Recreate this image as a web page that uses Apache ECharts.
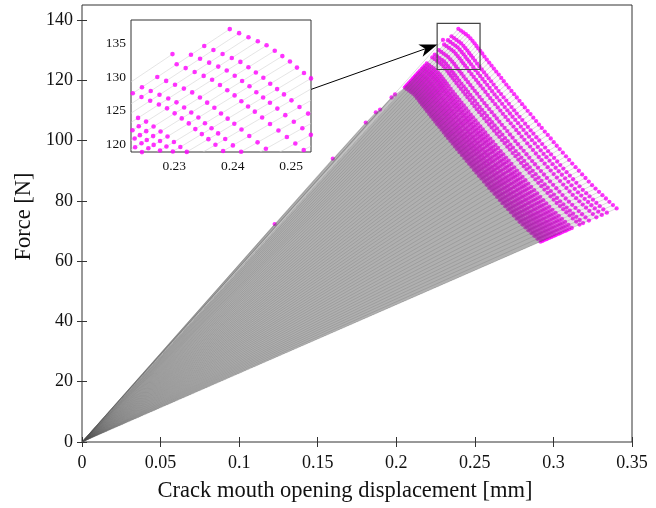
<!DOCTYPE html>
<html>
<head>
<meta charset="utf-8">
<script src="https://cdn.jsdelivr.net/npm/echarts@6/dist/echarts.min.js"></script>
<style>
  html, body { margin: 0; padding: 0; background: #ffffff; }
  #chart { width: 656px; height: 508px; }
</style>
</head>
<body>
<div id="chart"></div>
<script>
// Softening branch of the largest run: CMOD [mm] and force [N] at each load step
const stepCmod = [
  0.2395, 0.2411, 0.2427, 0.2443, 0.2458, 0.2472, 0.2485, 0.2498, 0.2510, 0.2522,
  0.2534, 0.2547, 0.2561, 0.2576, 0.2591, 0.2606, 0.2621, 0.2636, 0.2652, 0.2668,
  0.2684, 0.2700, 0.2716, 0.2733, 0.2750, 0.2767, 0.2784, 0.2801, 0.2818, 0.2836,
  0.2854, 0.2872, 0.2890, 0.2908, 0.2926, 0.2945, 0.2964, 0.2983, 0.3002, 0.3021,
  0.3040, 0.3060, 0.3080, 0.3100, 0.3120, 0.3141, 0.3162, 0.3183, 0.3204, 0.3225,
  0.3246, 0.3268, 0.3290, 0.3312, 0.3334, 0.3356, 0.3379, 0.3402
];
const stepForce = [
  137.1, 136.5, 135.9, 135.3, 134.7, 133.9, 133.1, 132.3, 131.4, 130.6,
  129.8, 128.9, 127.9, 126.9, 125.9, 124.9, 123.9, 122.9, 121.9, 120.8,
  119.7, 118.6, 117.6, 116.5, 115.4, 114.3, 113.2, 112.1, 111.0, 109.9,
  108.8, 107.6, 106.5, 105.3, 104.2, 103.0, 101.9, 100.7, 99.5, 98.3,
  97.2, 96.0, 94.8, 93.6, 92.4, 91.2, 90.0, 88.8, 87.6, 86.4,
  85.2, 84.1, 83.0, 81.9, 80.8, 79.7, 78.6, 77.5
];
// Peak force of every run [N]; each run is a similar copy of the branch above
const runPeakForce = [
  137.1, 134.6, 133.3, 131.9, 130.0, 128.5, 127.6, 125.6, 124.9, 124.3,
  123.8, 123.2, 122.6, 122.2, 121.6, 121.2, 120.7, 120.3, 119.8, 119.3,
  118.9, 118.4, 118.0, 117.6
];
// Load steps recorded on the elastic branch before the peak
const elasticCmod  = [0.1226, 0.1596, 0.1806, 0.1870, 0.1897, 0.1970, 0.1992, 0.2297];
const elasticForce = [72.3, 94.0, 106.0, 109.4, 110.3, 114.3, 115.3, 133.4];

// Tick values
const xTicks = [0, 0.05, 0.1, 0.15, 0.2, 0.25, 0.3, 0.35];
const yTicks = [0, 20, 40, 60, 80, 100, 120, 140];
const insetXTicks = [0.23, 0.24, 0.25];
const insetYTicks = [120, 125, 130, 135];

// Zoomed window (mm, N) and the arrow pointing at it from the inset
const zoomBox = [0.2260, 123.6, 0.2533, 138.9];
const arrowLine = [0.1458, 117.0, 0.2262, 131.9];

const FONT = '"Liberation Serif", "Times New Roman", serif';
const AXIS_COLOR = '#333333';
const MAGENTA = '#ff00ff';

const basePeak = Math.max.apply(null, stepForce);
const runs = runPeakForce.map(function (pk) {
  const s = pk / basePeak;
  return stepCmod.map(function (x, i) { return [x * s, stepForce[i] * s]; });
});
const elasticPts = elasticCmod.map(function (x, i) { return [x, elasticForce[i]]; });
const allPts = [].concat.apply([], runs).concat(elasticPts);
// Every run unloads along the same secant lines; the outermost step of each line
const outerRays = runs[0].concat(elasticPts);
// Region swept by the elastic branch: origin, pre-peak steps, peak of the smallest run
const elasticWedge = [[0, 0]].concat(elasticPts.filter(function (p) { return p[1] < 120; }))
  .concat([runs[runs.length - 1][0]]);

function rayRenderer(color, width) {
  return function (params, api) {
    const o = api.coord([0, 0]);
    const p = api.coord([api.value(0), api.value(1)]);
    return {
      type: 'line',
      shape: { x1: o[0], y1: o[1], x2: p[0], y2: p[1] },
      style: { stroke: color, lineWidth: width },
      silent: true
    };
  };
}

function fmt(v) { return String(+v.toFixed(4)); }

const chart = echarts.init(document.getElementById('chart'), null, { renderer: 'canvas' });

const tickStyle = { color: AXIS_COLOR, width: 1 };
const mainX = {
  gridIndex: 0, type: 'value', min: 0, max: 0.35,
  axisLine: { show: false },
  axisTick: { show: true, inside: true, length: 5, customValues: xTicks, lineStyle: tickStyle },
  axisLabel: { show: true, customValues: xTicks, formatter: fmt, color: '#111', fontFamily: FONT, fontSize: 18, margin: 12 },
  splitLine: { show: false },
  name: 'Crack mouth opening displacement [mm]', nameLocation: 'middle', nameGap: 38,
  nameTextStyle: { color: '#111', fontFamily: FONT, fontSize: 22.5, padding: [0, 24, 0, 0] }
};
const mainY = {
  gridIndex: 0, type: 'value', min: 0, max: 145,
  axisLine: { show: false },
  axisTick: { show: true, inside: true, length: 5, customValues: yTicks, lineStyle: tickStyle },
  axisLabel: { show: true, customValues: yTicks, formatter: fmt, color: '#111', fontFamily: FONT, fontSize: 18, margin: 9 },
  splitLine: { show: false },
  name: 'Force [N]', nameLocation: 'middle', nameGap: 42, nameRotate: 90,
  nameTextStyle: { color: '#111', fontFamily: FONT, fontSize: 22.5, padding: [0, 0, 0, 14] }
};
const mirrorX = {
  gridIndex: 0, type: 'value', min: 0, max: 0.35, position: 'top',
  axisLine: { show: false },
  axisTick: { show: true, inside: true, length: 5, customValues: xTicks, lineStyle: tickStyle },
  axisLabel: { show: false }, splitLine: { show: false }
};
const mirrorY = {
  gridIndex: 0, type: 'value', min: 0, max: 145, position: 'right',
  axisLine: { show: false },
  axisTick: { show: true, inside: true, length: 5, customValues: yTicks, lineStyle: tickStyle },
  axisLabel: { show: false }, splitLine: { show: false }
};
const insetX = {
  gridIndex: 1, type: 'value', min: 0.2226, max: 0.2534,
  axisLine: { show: false },
  axisTick: { show: true, inside: true, length: 3, customValues: insetXTicks, lineStyle: tickStyle },
  axisLabel: { show: true, customValues: insetXTicks, formatter: fmt, color: '#111', fontFamily: FONT, fontSize: 13.5, margin: 7 },
  splitLine: { show: false }
};
const insetY = {
  gridIndex: 1, type: 'value', min: 118.9, max: 138.45,
  axisLine: { show: false },
  axisTick: { show: true, inside: true, length: 3, customValues: insetYTicks, lineStyle: tickStyle },
  axisLabel: { show: true, customValues: insetYTicks, formatter: fmt, color: '#111', fontFamily: FONT, fontSize: 13.5, margin: 5 },
  splitLine: { show: false }
};

chart.setOption({
  animation: false,
  backgroundColor: '#ffffff',
  grid: [
    { left: 82, top: 5, width: 550, height: 437, show: true, borderColor: AXIS_COLOR, borderWidth: 1, backgroundColor: 'transparent', containLabel: false, z: 1 },
    { left: 131, top: 20, width: 180, height: 132, show: true, borderColor: AXIS_COLOR, borderWidth: 1, backgroundColor: '#ffffff', containLabel: false, z: 20 }
  ],
  xAxis: [mainX, mirrorX, insetX],
  yAxis: [mainY, mirrorY, insetY],
  series: [
    {
      name: 'steps', type: 'scatter', xAxisIndex: 0, yAxisIndex: 0,
      data: allPts, symbol: 'circle', symbolSize: 4.3,
      itemStyle: { color: MAGENTA }, z: 2, silent: true, large: false, progressive: 0
    },
    {
      // area swept by the unloading lines of each run
      name: 'swept', type: 'custom', xAxisIndex: 0, yAxisIndex: 0, clip: true,
      data: runs.map(function (r, i) { return [i]; }), z: 3, silent: true,
      renderItem: function (params, api) {
        const pts = [api.coord([0, 0])].concat(runs[params.dataIndex].map(function (p) { return api.coord(p); }));
        return { type: 'polygon', shape: { points: pts }, style: { fill: 'rgba(110,110,110,0.027)', stroke: 'none' } };
      }
    },
    {
      name: 'elastic', type: 'custom', xAxisIndex: 0, yAxisIndex: 0, clip: true,
      data: [[0]], z: 3, silent: true,
      renderItem: function (params, api) {
        const pts = elasticWedge.map(function (p) { return api.coord(p); });
        return { type: 'polygon', shape: { points: pts }, style: { fill: 'rgba(110,110,110,0.42)', stroke: 'none' } };
      }
    },
    {
      name: 'unloading', type: 'custom', xAxisIndex: 0, yAxisIndex: 0, clip: true,
      data: outerRays, renderItem: rayRenderer('rgba(80,80,80,0.33)', 0.6), z: 4, silent: true, progressive: 0
    },
    {
      name: 'window', type: 'custom', xAxisIndex: 0, yAxisIndex: 0, clip: false,
      data: [zoomBox], z: 10, silent: true,
      renderItem: function (params, api) {
        const a = api.coord([api.value(0), api.value(1)]);
        const b = api.coord([api.value(2), api.value(3)]);
        return {
          type: 'rect',
          shape: { x: Math.min(a[0], b[0]), y: Math.min(a[1], b[1]), width: Math.abs(b[0] - a[0]), height: Math.abs(b[1] - a[1]) },
          style: { fill: 'none', stroke: '#444', lineWidth: 1.2 }
        };
      }
    },
    {
      name: 'pointer', type: 'custom', xAxisIndex: 0, yAxisIndex: 0, clip: false,
      data: [arrowLine], z: 30, silent: true,
      renderItem: function (params, api) {
        const p0 = api.coord([api.value(0), api.value(1)]);
        const p1 = api.coord([api.value(2), api.value(3)]);
        const dx = p1[0] - p0[0], dy = p1[1] - p0[1];
        const len = Math.sqrt(dx * dx + dy * dy);
        const ux = dx / len, uy = dy / len, nx = -uy, ny = ux;
        const L = 18, W = 6.5, notch = 5;
        const back = [p1[0] - L * ux, p1[1] - L * uy];
        const inner = [p1[0] - (L - notch) * ux, p1[1] - (L - notch) * uy];
        return {
          type: 'group',
          children: [
            { type: 'line', shape: { x1: p0[0], y1: p0[1], x2: inner[0], y2: inner[1] }, style: { stroke: '#000', lineWidth: 1 } },
            { type: 'polygon', shape: { points: [p1, [back[0] + W * nx, back[1] + W * ny], inner, [back[0] - W * nx, back[1] - W * ny]] }, style: { fill: '#000' } }
          ]
        };
      }
    },
    {
      name: 'inset unloading', type: 'custom', xAxisIndex: 2, yAxisIndex: 2, clip: true,
      data: outerRays, renderItem: rayRenderer('#d4d4d4', 0.6), z: 21, silent: true, progressive: 0
    },
    {
      name: 'inset steps', type: 'scatter', xAxisIndex: 2, yAxisIndex: 2, clip: true,
      data: allPts, symbol: 'circle', symbolSize: 4.6,
      itemStyle: { color: MAGENTA }, z: 22, silent: true, progressive: 0
    }
  ]
});
</script>
</body>
</html>
